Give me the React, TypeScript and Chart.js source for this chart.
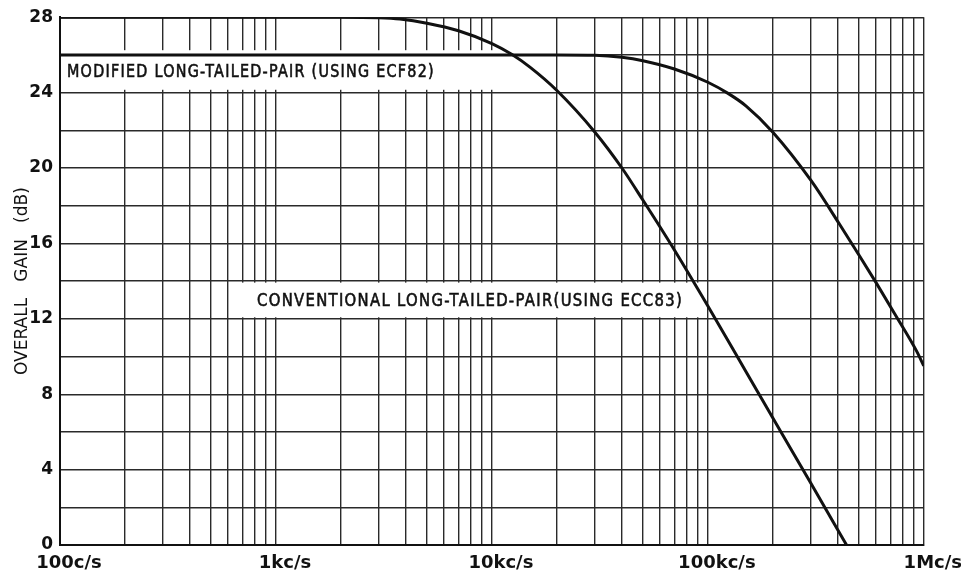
import React, { useEffect, useRef } from "react";
import { Chart, registerables } from "chart.js";

Chart.register(...registerables);

// ---- Data ----
const conventionalFreq = [100, 1000, 2000, 3000, 3750, 5000, 7000, 10000, 12400, 15000, 20000, 30000, 40000, 50000, 70000, 100000, 150000, 200000, 300000, 438700];
const conventionalGain = [28, 28, 28, 27.97, 27.9, 27.68, 27.28, 26.6, 26.02, 25.35, 24.11, 21.9, 20.0, 18.3, 15.65, 12.68, 9.21, 6.74, 3.27, 0];

const modifiedFreq = [100, 10000, 20000, 30000, 40000, 50000, 70000, 100000, 124000, 150000, 200000, 302000, 408000, 505000, 604000, 734000, 925000, 1000000];
const modifiedGain = [26, 26, 26, 25.98, 25.87, 25.69, 25.25, 24.55, 23.96, 23.3, 21.9, 19.3, 17.0, 15.32, 13.88, 12.26, 10.3, 9.5];

const decadeValues = [100, 1000, 10000, 100000, 1000000];
const decadeLabels = ["100c/s", "1kc/s", "10kc/s", "100kc/s", "1Mc/s"];
const gridMultipliers = [1, 2, 3, 4, 5, 6, 7, 8, 9];

const yMin = 0;
const yMax = 28;
const yGridStep = 2;
const yLabelStep = 4;

const yTitle = "OVERALL   GAIN   (dB)";

const curveLabelTexts = [
  "MODIFIED LONG-TAILED-PAIR (USING ECF82)",
  "CONVENTIONAL LONG-TAILED-PAIR(USING ECC83)",
];
// anchor of each label in data space: [text start freq, text centre dB]
const curveLabelAnchors = [
  [107.7, 25.04],
  [817, 12.9],
];
// white box behind each label in data space: [freqFrom, freqTo, dBTop, dBBottom]
const curveLabelBoxes = [
  [100, 10900, 26.25, 24.15],
  [626, 94000, 13.92, 12.08],
];

// ---- styles ----
const INK = "#111111";
const GRID = "#2a2a2a";
const FONT = "'DejaVu Sans', 'Liberation Sans', sans-serif";
const labelWidths = [368, 426];

const gridTicks: number[] = [];
for (let d = 0; d < decadeValues.length - 1; d++) {
  for (const m of gridMultipliers) gridTicks.push(decadeValues[d] * m);
}
gridTicks.push(decadeValues[decadeValues.length - 1]);

const curveLabelPlugin = {
  id: "curveLabels",
  beforeDatasetsDraw(chart: any) {
    const { ctx, scales } = chart;
    const xs = scales.x;
    const ys = scales.y;
    curveLabelTexts.forEach((text, i) => {
      ctx.save();
      const [f0, f1, dTop, dBot] = curveLabelBoxes[i];
      const x0 = Math.max(xs.getPixelForValue(f0), chart.chartArea.left + 1);
      const x1 = xs.getPixelForValue(f1);
      const y0 = ys.getPixelForValue(dTop);
      const y1 = ys.getPixelForValue(dBot);
      ctx.fillStyle = "#ffffff";
      ctx.fillRect(x0, y0, x1 - x0, y1 - y0);
      const [tf, td] = curveLabelAnchors[i];
      ctx.font = `17px ${FONT}`;
      try {
        (ctx as any).letterSpacing = "1.5px";
      } catch (e) {
        /* ignore */
      }
      ctx.textAlign = "left";
      ctx.textBaseline = "middle";
      const natural = ctx.measureText(text).width;
      const sx = labelWidths[i] / natural;
      ctx.translate(xs.getPixelForValue(tf), ys.getPixelForValue(td));
      ctx.scale(sx, 1);
      ctx.fillStyle = INK;
      ctx.strokeStyle = INK;
      ctx.lineWidth = 0.6;
      ctx.fillText(text, 0, 0);
      ctx.strokeText(text, 0, 0);
      ctx.restore();
    });
  },
};

export default function App() {
  const canvasRef = useRef<HTMLCanvasElement | null>(null);

  useEffect(() => {
    const canvas = canvasRef.current;
    if (!canvas) return;
    const chart = new Chart(canvas, {
      type: "line",
      data: {
        datasets: [
          {
            label: "Modified long-tailed-pair (ECF82)",
            data: modifiedFreq.map((f, i) => ({ x: f, y: modifiedGain[i] })),
            borderColor: INK,
            borderWidth: 3,
            pointRadius: 0,
            fill: false,
            cubicInterpolationMode: "monotone",
          },
          {
            label: "Conventional long-tailed-pair (ECC83)",
            data: conventionalFreq.map((f, i) => ({ x: f, y: conventionalGain[i] })),
            borderColor: INK,
            borderWidth: 3,
            pointRadius: 0,
            fill: false,
            cubicInterpolationMode: "monotone",
          },
        ],
      },
      options: {
        animation: false,
        responsive: false,
        events: [],
        layout: { padding: { left: 0, right: 35, top: 15, bottom: 0 } },
        plugins: {
          legend: { display: false },
          tooltip: { enabled: false },
          title: { display: false },
        },
        scales: {
          x: {
            type: "logarithmic",
            min: decadeValues[0],
            max: decadeValues[decadeValues.length - 1],
            afterBuildTicks: (scale: any) => {
              scale.ticks = gridTicks.map((v) => ({ value: v }));
            },
            afterFit: (scale: any) => {
              scale.height = 32;
            },
            grid: { color: GRID, lineWidth: 1.4, drawTicks: false },
            border: { display: true, color: INK, width: 2 },
            ticks: {
              autoSkip: false,
              maxRotation: 0,
              minRotation: 0,
              padding: 8,
              labelOffset: 9,
              color: INK,
              font: { family: FONT, size: 18, weight: "bold" },
              callback: (v: any) => {
                const idx = decadeValues.indexOf(Number(v));
                return idx >= 0 ? decadeLabels[idx] : "";
              },
            },
          },
          y: {
            type: "linear",
            min: yMin,
            max: yMax,
            afterFit: (scale: any) => {
              scale.width = 60;
            },
            grid: { color: GRID, lineWidth: 1.4, drawTicks: false },
            border: { display: true, color: INK, width: 2 },
            title: {
              display: true,
              text: yTitle,
              color: INK,
              font: { family: FONT, size: 17 },
              padding: { top: 12, bottom: 0 },
            },
            ticks: {
              stepSize: yGridStep,
              padding: 7,
              color: INK,
              font: { family: FONT, size: 17, weight: "bold" },
              callback: (v: any) => (Number(v) % yLabelStep === 0 ? String(v) : ""),
            },
          },
        },
      },
      plugins: [curveLabelPlugin],
    });
    return () => chart.destroy();
  }, []);

  return (
    <div style={{ position: "absolute", left: 0, top: 0, width: 961, height: 577, background: "#fff" }}>
      <canvas ref={canvasRef} width={961} height={577} style={{ display: "block" }} />
    </div>
  );
}
